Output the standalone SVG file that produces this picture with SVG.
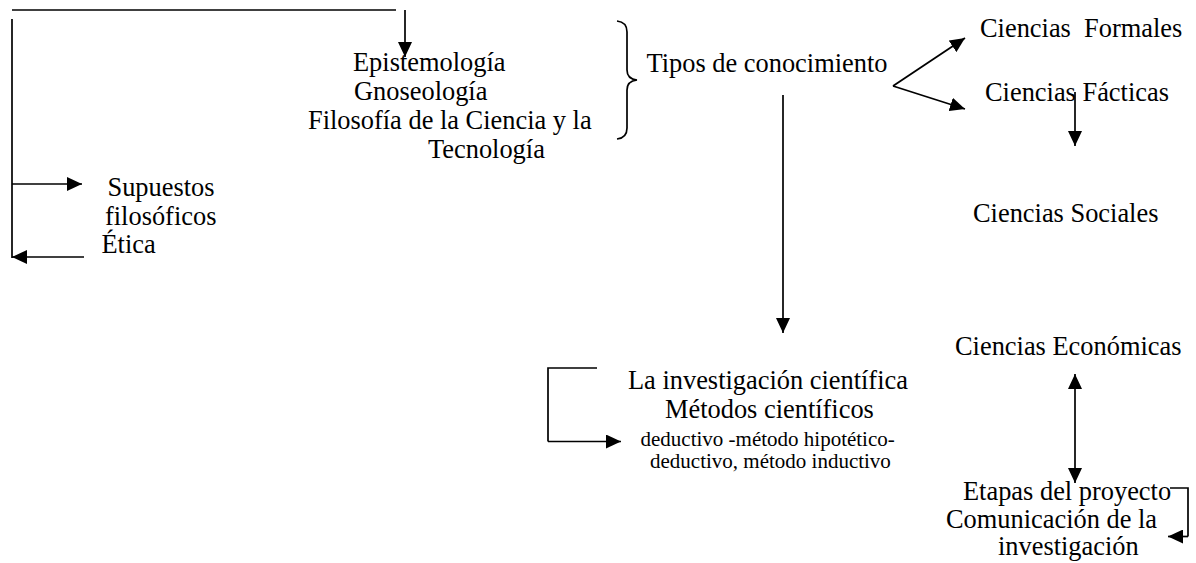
<svg xmlns="http://www.w3.org/2000/svg" width="1196" height="563" viewBox="0 0 1196 563">
<defs>
<marker id="ah" markerUnits="userSpaceOnUse" markerWidth="16" markerHeight="14" refX="15" refY="7" orient="auto-start-reverse">
<path d="M0,0 L15,7 L0,14 z" fill="#000"/>
</marker>
<style>
text{font-family:'Liberation Serif','Times New Roman','DejaVu Serif',serif;font-size:26.4px;fill:#000}
.s{font-size:21px}
.c{fill:none;stroke:#000;stroke-width:1.7}
.a{marker-end:url(#ah)}
.b{marker-start:url(#ah);marker-end:url(#ah)}
</style>
</defs>
<rect width="1196" height="563" fill="#fff"/>
<g id="connectors">
<line class="c" x1="12" y1="10" x2="396" y2="10"/>
<line class="c a" x1="405" y1="10" x2="405" y2="57"/>
<line class="c" x1="12" y1="19" x2="12" y2="258"/>
<line class="c a" x1="12" y1="184" x2="82" y2="184"/>
<line class="c a" x1="84" y1="257" x2="12" y2="257"/>
<path class="c" d="M617,21 Q627,22 627,32 L627,70 Q627,79 637,80 Q627,81 627,90 L627,128 Q627,138 617,139"/>
<line class="c a" x1="893" y1="86" x2="965" y2="38"/>
<line class="c a" x1="893" y1="86" x2="965" y2="109"/>
<line class="c a" x1="1075" y1="92" x2="1075" y2="146"/>
<line class="c a" x1="783" y1="95" x2="783" y2="333"/>
<line class="c b" x1="1075" y1="374" x2="1075" y2="483"/>
<polyline class="c" points="597,368 548,368 548,441.5"/>
<line class="c a" x1="548" y1="441.5" x2="621" y2="441.5"/>
<polyline class="c" points="1170,488 1188,488 1188,536.5"/>
<line class="c a" x1="1188" y1="536.5" x2="1168" y2="536.5"/>
</g>
<g font-family="'Liberation Serif', 'Times New Roman', serif">
<g id="supuestos"><text x="107.5" y="196">Supuestos</text><text x="105" y="225">filosóficos</text></g>
<g id="etica"><text x="101.5" y="253">Ética</text></g>
<g id="epistemologia">
<text x="353" y="71">Epistemología</text>
<text x="354" y="100">Gnoseología</text>
<text x="308" y="129">Filosofía de la Ciencia y la</text>
<text x="428" y="158">Tecnología</text>
</g>
<g id="tipos"><text x="646.5" y="72">Tipos de conocimiento</text></g>
<g id="formales"><text x="980" y="37" xml:space="preserve">Ciencias  Formales</text></g>
<g id="facticas"><text x="985" y="101">Ciencias Fácticas</text></g>
<g id="sociales"><text x="973" y="222">Ciencias Sociales</text></g>
<g id="economicas"><text x="955" y="355">Ciencias Económicas</text></g>
<g id="investigacion">
<text x="628" y="389">La investigación científica</text>
<text x="665" y="418">Métodos científicos</text>
<text class="s" x="640.5" y="445.5">deductivo -método hipotético-</text>
<text class="s" x="650" y="468">deductivo, método inductivo</text>
</g>
<g id="etapas">
<text x="963" y="500">Etapas del proyecto</text>
<text x="946" y="528">Comunicación de la</text>
<text x="998" y="555">investigación</text>
</g>
</g>
</svg>
